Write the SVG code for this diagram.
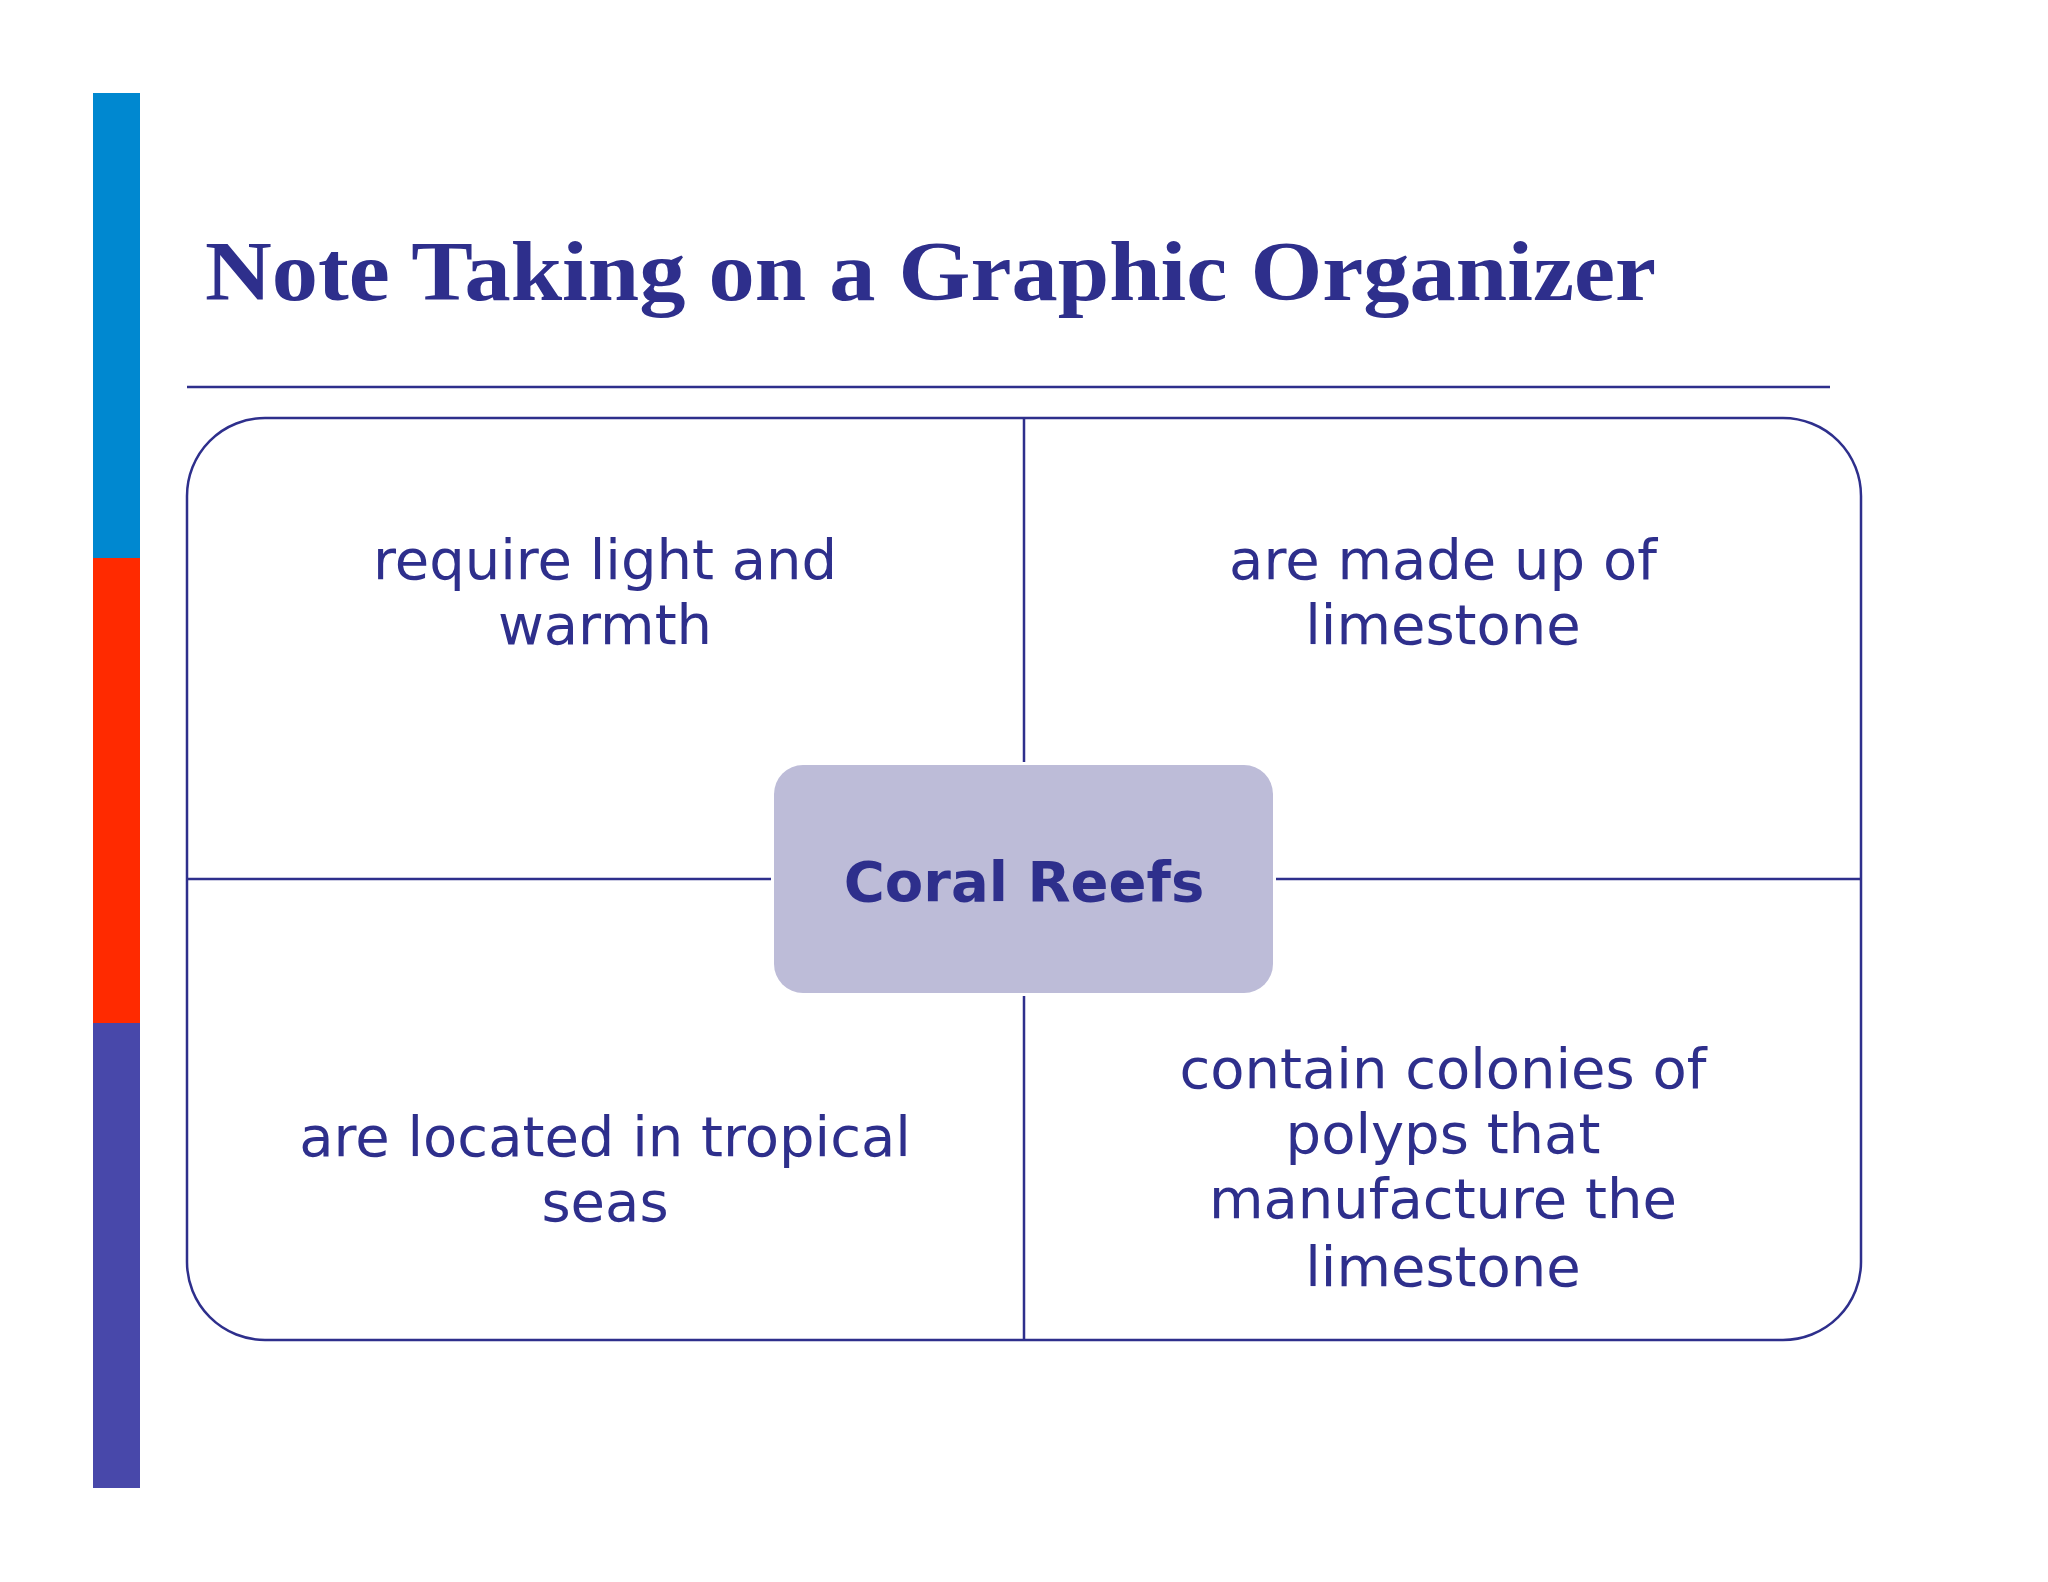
<svg xmlns="http://www.w3.org/2000/svg" width="2048" height="1582" viewBox="0 0 2048 1582">
<style>
.q{font-family:"DejaVu Sans",Verdana,sans-serif;font-size:56px;fill:#2E2F8C;text-anchor:middle}
.ln{stroke:#2E2F8C;stroke-width:2.5;fill:none}
</style>
<rect width="2048" height="1582" fill="#fff"/>
<rect x="93" y="93" width="47" height="465" fill="#0088D0"/>
<rect x="93" y="558" width="47" height="465" fill="#FF2A00"/>
<rect x="93" y="1023" width="47" height="465" fill="#4848AA"/>
<text x="205" y="300" font-family="Liberation Serif,serif" font-weight="bold" font-size="84" fill="#2E2F8C" textLength="1451" lengthAdjust="spacingAndGlyphs">Note Taking on a Graphic Organizer</text>
<line x1="187" y1="387" x2="1830" y2="387" class="ln" stroke-width="3"/>
<g id="frame"><rect x="187" y="418" width="1674" height="922" rx="78" class="ln"/></g>
<g id="connectors">
<line x1="1024" y1="418" x2="1024" y2="762" class="ln"/>
<line x1="1024" y1="996" x2="1024" y2="1340" class="ln"/>
<line x1="187" y1="879" x2="771" y2="879" class="ln"/>
<line x1="1276" y1="879" x2="1861" y2="879" class="ln"/>
</g>
<g id="center"><rect x="774" y="765" width="499" height="228" rx="29" fill="#BDBCD8"/>
<text x="1024" y="901" class="q" font-weight="bold" font-size="62">Coral Reefs</text></g>
<g id="tl"><text class="q"><tspan x="605" y="579">require light and</tspan><tspan x="605" y="644">warmth</tspan></text></g>
<g id="tr"><text class="q"><tspan x="1443" y="579">are made up of</tspan><tspan x="1443" y="644">limestone</tspan></text></g>
<g id="bl"><text class="q"><tspan x="605" y="1156">are located in tropical</tspan><tspan x="605" y="1221">seas</tspan></text></g>
<g id="br"><text class="q"><tspan x="1443" y="1088">contain colonies of</tspan><tspan x="1443" y="1153">polyps that</tspan><tspan x="1443" y="1218">manufacture the</tspan><tspan x="1443" y="1286">limestone</tspan></text></g>
</svg>
